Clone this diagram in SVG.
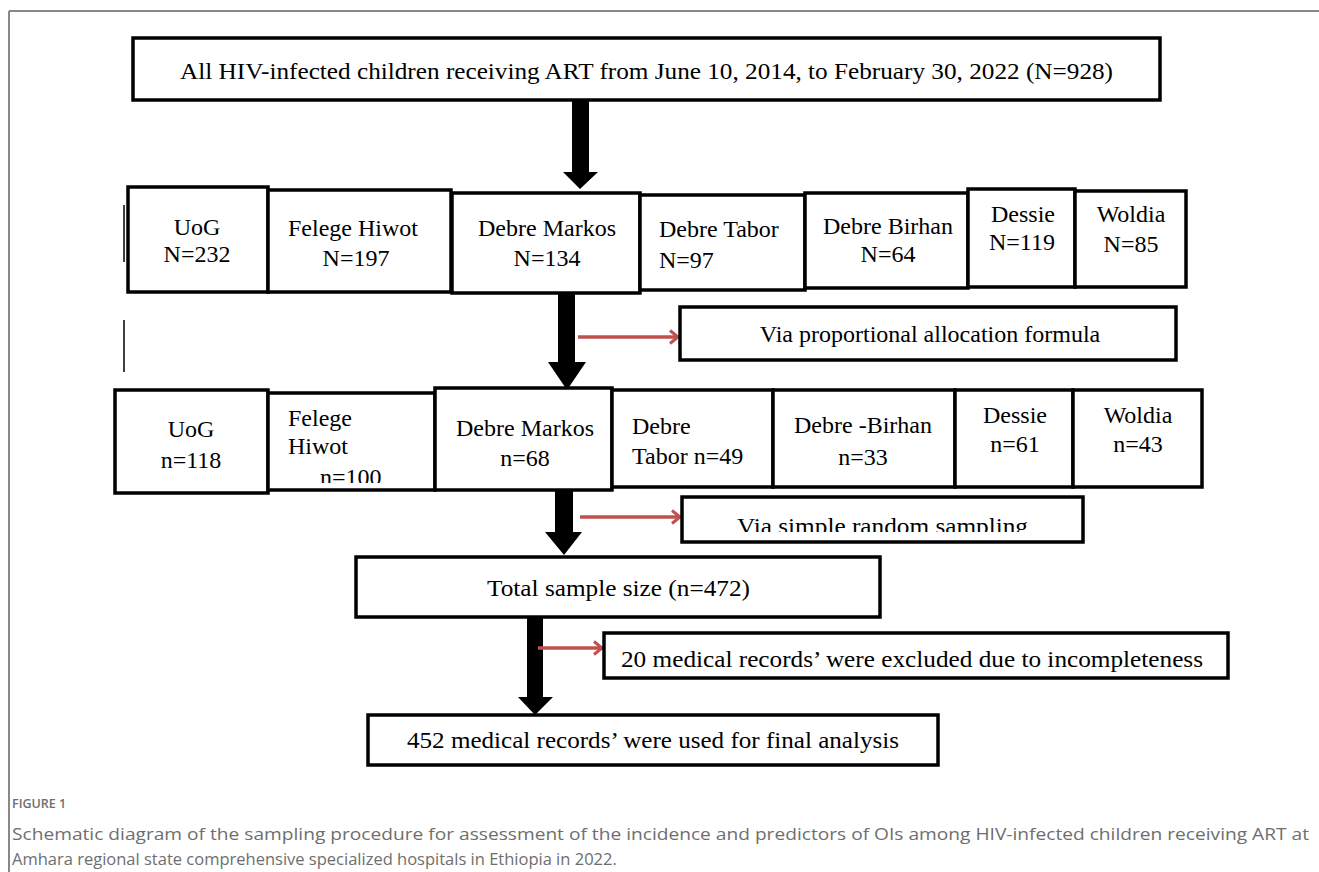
<svg xmlns="http://www.w3.org/2000/svg" width="1319" height="872" viewBox="0 0 1319 872">
<style>
.box{fill:#fff;stroke:#000;stroke-width:3.5}
.t{font-family:"Liberation Serif","Times New Roman",serif;font-size:24px;fill:#000}
.c{text-anchor:middle}
.red{stroke:#c0504d;stroke-width:3.5;fill:none}
.cap{font-family:"Open Sans","Noto Sans",sans-serif;fill:#6e6e6e}
</style>
<defs>
<marker id="chev" markerWidth="12" markerHeight="16" refX="10" refY="8" orient="auto" markerUnits="userSpaceOnUse">
<polyline points="2,1.5 10,8 2,14.5" fill="none" stroke="#c0504d" stroke-width="3"/>
</marker>
<clipPath id="clipSRS"><rect x="682" y="497" width="401" height="35"/></clipPath>
<clipPath id="clipFH"><rect x="268" y="393" width="167" height="90"/></clipPath>
</defs>
<rect x="0" y="0" width="1319" height="872" fill="#fff"/>
<g id="frame" stroke="#888" stroke-width="2" fill="none">
<line x1="9" y1="11" x2="1319" y2="11"/>
<line x1="9" y1="11" x2="9" y2="872"/>
</g>
<g id="marks" stroke="#000" stroke-width="1.5">
<line x1="124" y1="205" x2="124" y2="262"/>
<line x1="124" y1="320" x2="124" y2="372"/>
</g>
<g id="connectors">
<polygon points="572,100 589,100 589,172 598,172 580,189 563,172 572,172" fill="#000"/>
<polygon points="558,293 575,293 575,362 586,362 567,390 548,362 558,362" fill="#000"/>
<polygon points="555,487 573,487 573,532 582,532 564,555 545,532 555,532" fill="#000"/>
<polygon points="527,617 543,617 543,697 553,697 535,715 518,697 527,697" fill="#000"/>
<line class="red" x1="578" y1="337" x2="678" y2="337" marker-end="url(#chev)"/>
<line class="red" x1="580" y1="517" x2="680" y2="517" marker-end="url(#chev)"/>
<line class="red" x1="538" y1="648" x2="602" y2="648" marker-end="url(#chev)"/>
</g>
<g id="top"><rect class="box" x="133" y="38" width="1027" height="62"/>
<text class="t" x="180" y="79" textLength="933" lengthAdjust="spacingAndGlyphs">All HIV-infected children receiving ART from June 10, 2014, to February 30, 2022 (N=928)</text></g>
<g id="r1-uog"><rect class="box" x="128" y="187" width="140" height="105"/>
<text class="t c" x="197" y="235">UoG</text><text class="t c" x="197" y="262">N=232</text></g>
<g id="r1-fh"><rect class="box" x="268" y="190" width="183" height="102"/>
<text class="t c" x="353" y="236" font-size="25">Felege Hiwot</text><text class="t c" x="356" y="266" font-size="25">N=197</text></g>
<g id="r1-dm"><rect class="box" x="452" y="193" width="188" height="100"/>
<text class="t c" x="547" y="236">Debre Markos</text><text class="t c" x="547" y="266">N=134</text></g>
<g id="r1-dt"><rect class="box" x="640" y="195" width="165" height="95"/>
<text class="t" x="659" y="237">Debre Tabor</text><text class="t" x="659" y="268">N=97</text></g>
<g id="r1-db"><rect class="box" x="805" y="193" width="163" height="95"/>
<text class="t c" x="888" y="234" font-size="22">Debre Birhan</text><text class="t c" x="888" y="262">N=64</text></g>
<g id="r1-de"><rect class="box" x="968" y="189" width="107" height="98"/>
<text class="t c" x="1023" y="222">Dessie</text><text class="t c" x="1022" y="250">N=119</text></g>
<g id="r1-wo"><rect class="box" x="1075" y="191" width="111" height="96"/>
<text class="t c" x="1131" y="222">Woldia</text><text class="t c" x="1131" y="252">N=85</text></g>
<g id="pa"><rect class="box" x="680" y="307" width="496" height="53"/>
<text class="t c" x="930" y="342" font-size="22">Via proportional allocation formula</text></g>
<g id="r2-uog"><rect class="box" x="115" y="390" width="153" height="103"/>
<text class="t c" x="191" y="437">UoG</text><text class="t c" x="191" y="468">n=118</text></g>
<g id="r2-fh"><rect class="box" x="268" y="393" width="167" height="97"/>
<text class="t" x="288" y="426">Felege</text><text class="t" x="288" y="454">Hiwot</text>
<text class="t" x="320" y="485" clip-path="url(#clipFH)">n=100</text></g>
<g id="r2-dm"><rect class="box" x="435" y="388" width="177" height="102"/>
<text class="t c" x="525" y="436">Debre Markos</text><text class="t c" x="525" y="466">n=68</text></g>
<g id="r2-dt"><rect class="box" x="612" y="390" width="161" height="97"/>
<text class="t" x="632" y="434">Debre</text><text class="t" x="632" y="464">Tabor n=49</text></g>
<g id="r2-db"><rect class="box" x="773" y="390" width="182" height="97"/>
<text class="t c" x="863" y="433">Debre -Birhan</text><text class="t c" x="863" y="465">n=33</text></g>
<g id="r2-de"><rect class="box" x="955" y="390" width="118" height="97"/>
<text class="t c" x="1015" y="423">Dessie</text><text class="t c" x="1015" y="452">n=61</text></g>
<g id="r2-wo"><rect class="box" x="1073" y="390" width="129" height="97"/>
<text class="t c" x="1138" y="423">Woldia</text><text class="t c" x="1138" y="452">n=43</text></g>
<g id="srs"><rect class="box" x="682" y="497" width="401" height="45"/>
<text class="t" x="737" y="534" textLength="291" lengthAdjust="spacingAndGlyphs" clip-path="url(#clipSRS)">Via simple random sampling</text></g>
<g id="total"><rect class="box" x="356" y="557" width="524" height="60"/>
<text class="t" x="487" y="596" textLength="263" lengthAdjust="spacingAndGlyphs">Total sample size (n=472)</text></g>
<g id="excl"><rect class="box" x="604" y="633" width="624" height="45"/>
<text class="t" x="621" y="667" textLength="582" lengthAdjust="spacingAndGlyphs">20 medical records’ were excluded due to incompleteness</text></g>
<g id="final"><rect class="box" x="368" y="715" width="570" height="50"/>
<text class="t" x="407" y="748" textLength="492" lengthAdjust="spacingAndGlyphs">452 medical records’ were used for final analysis</text></g>
<g id="caption">
<text class="cap" x="12" y="808" font-size="12.5" font-weight="600">FIGURE 1</text>
<text class="cap" x="12" y="840" font-size="16.5" textLength="1297" lengthAdjust="spacingAndGlyphs">Schematic diagram of the sampling procedure for assessment of the incidence and predictors of OIs among HIV-infected children receiving ART at</text>
<text class="cap" x="12" y="865" font-size="16.5">Amhara regional state comprehensive specialized hospitals in Ethiopia in 2022.</text>
</g>
</svg>
